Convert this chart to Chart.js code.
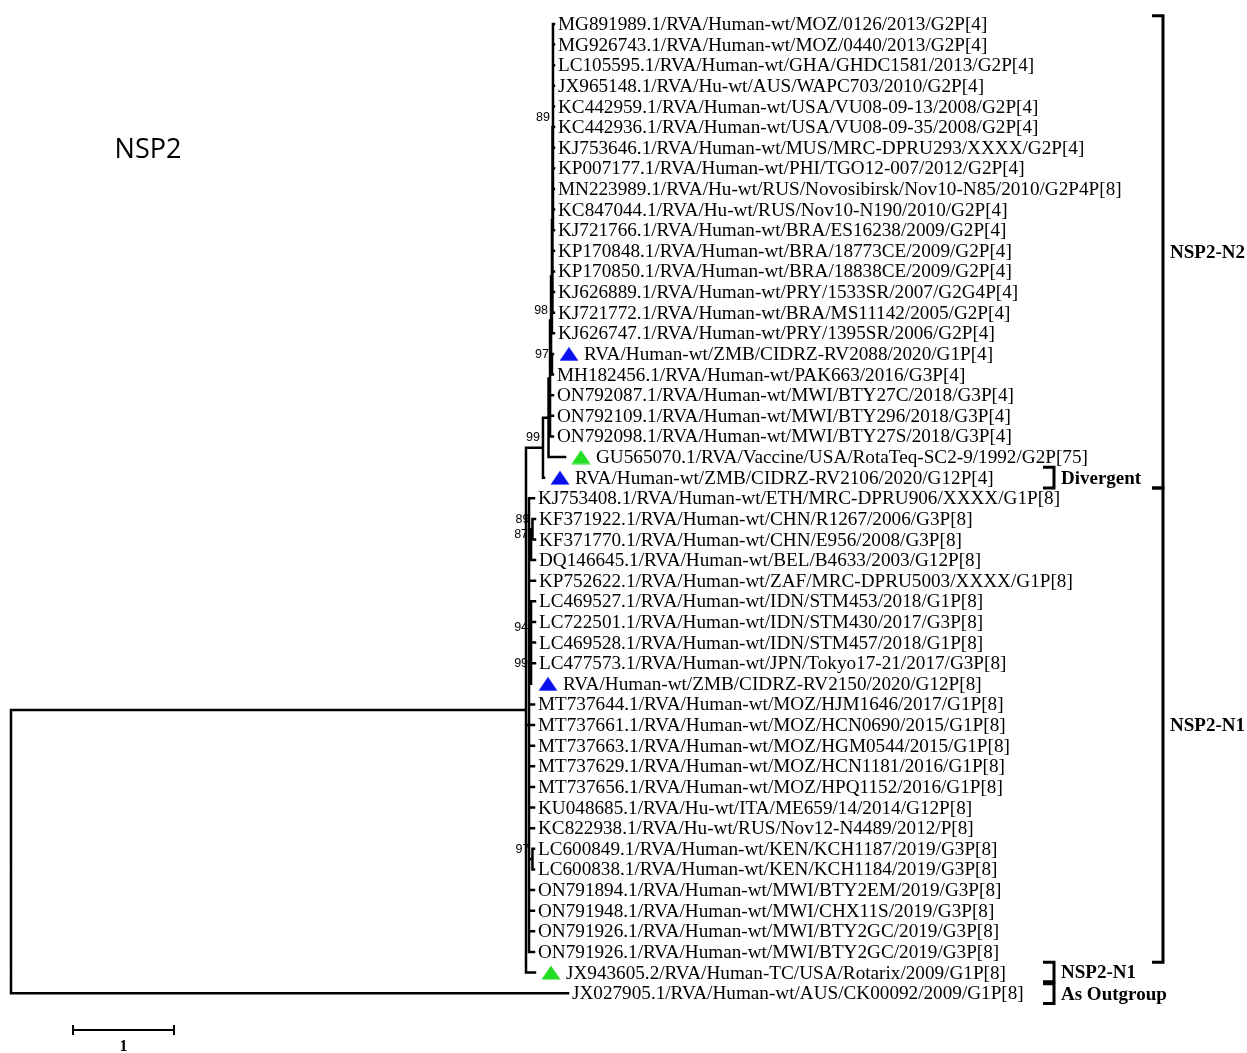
<!DOCTYPE html>
<html>
<head>
<meta charset="utf-8">
<script src="https://cdn.jsdelivr.net/npm/chart.js@4.4.1/dist/chart.umd.min.js"></script>
<style>
  body { margin: 0; background: #fff; }
  #wrap { width: 1247px; height: 1053px; position: relative; }
</style>
</head>
<body>
<div id="wrap"><canvas id="tree"></canvas></div>
<script>
// leaves, top to bottom
const leafNames = [
  "MG891989.1/RVA/Human-wt/MOZ/0126/2013/G2P[4]",
  "MG926743.1/RVA/Human-wt/MOZ/0440/2013/G2P[4]",
  "LC105595.1/RVA/Human-wt/GHA/GHDC1581/2013/G2P[4]",
  "JX965148.1/RVA/Hu-wt/AUS/WAPC703/2010/G2P[4]",
  "KC442959.1/RVA/Human-wt/USA/VU08-09-13/2008/G2P[4]",
  "KC442936.1/RVA/Human-wt/USA/VU08-09-35/2008/G2P[4]",
  "KJ753646.1/RVA/Human-wt/MUS/MRC-DPRU293/XXXX/G2P[4]",
  "KP007177.1/RVA/Human-wt/PHI/TGO12-007/2012/G2P[4]",
  "MN223989.1/RVA/Hu-wt/RUS/Novosibirsk/Nov10-N85/2010/G2P4P[8]",
  "KC847044.1/RVA/Hu-wt/RUS/Nov10-N190/2010/G2P[4]",
  "KJ721766.1/RVA/Human-wt/BRA/ES16238/2009/G2P[4]",
  "KP170848.1/RVA/Human-wt/BRA/18773CE/2009/G2P[4]",
  "KP170850.1/RVA/Human-wt/BRA/18838CE/2009/G2P[4]",
  "KJ626889.1/RVA/Human-wt/PRY/1533SR/2007/G2G4P[4]",
  "KJ721772.1/RVA/Human-wt/BRA/MS11142/2005/G2P[4]",
  "KJ626747.1/RVA/Human-wt/PRY/1395SR/2006/G2P[4]",
  "RVA/Human-wt/ZMB/CIDRZ-RV2088/2020/G1P[4]",
  "MH182456.1/RVA/Human-wt/PAK663/2016/G3P[4]",
  "ON792087.1/RVA/Human-wt/MWI/BTY27C/2018/G3P[4]",
  "ON792109.1/RVA/Human-wt/MWI/BTY296/2018/G3P[4]",
  "ON792098.1/RVA/Human-wt/MWI/BTY27S/2018/G3P[4]",
  "GU565070.1/RVA/Vaccine/USA/RotaTeq-SC2-9/1992/G2P[75]",
  "RVA/Human-wt/ZMB/CIDRZ-RV2106/2020/G12P[4]",
  "KJ753408.1/RVA/Human-wt/ETH/MRC-DPRU906/XXXX/G1P[8]",
  "KF371922.1/RVA/Human-wt/CHN/R1267/2006/G3P[8]",
  "KF371770.1/RVA/Human-wt/CHN/E956/2008/G3P[8]",
  "DQ146645.1/RVA/Human-wt/BEL/B4633/2003/G12P[8]",
  "KP752622.1/RVA/Human-wt/ZAF/MRC-DPRU5003/XXXX/G1P[8]",
  "LC469527.1/RVA/Human-wt/IDN/STM453/2018/G1P[8]",
  "LC722501.1/RVA/Human-wt/IDN/STM430/2017/G3P[8]",
  "LC469528.1/RVA/Human-wt/IDN/STM457/2018/G1P[8]",
  "LC477573.1/RVA/Human-wt/JPN/Tokyo17-21/2017/G3P[8]",
  "RVA/Human-wt/ZMB/CIDRZ-RV2150/2020/G12P[8]",
  "MT737644.1/RVA/Human-wt/MOZ/HJM1646/2017/G1P[8]",
  "MT737661.1/RVA/Human-wt/MOZ/HCN0690/2015/G1P[8]",
  "MT737663.1/RVA/Human-wt/MOZ/HGM0544/2015/G1P[8]",
  "MT737629.1/RVA/Human-wt/MOZ/HCN1181/2016/G1P[8]",
  "MT737656.1/RVA/Human-wt/MOZ/HPQ1152/2016/G1P[8]",
  "KU048685.1/RVA/Hu-wt/ITA/ME659/14/2014/G12P[8]",
  "KC822938.1/RVA/Hu-wt/RUS/Nov12-N4489/2012/P[8]",
  "LC600849.1/RVA/Human-wt/KEN/KCH1187/2019/G3P[8]",
  "LC600838.1/RVA/Human-wt/KEN/KCH1184/2019/G3P[8]",
  "ON791894.1/RVA/Human-wt/MWI/BTY2EM/2019/G3P[8]",
  "ON791948.1/RVA/Human-wt/MWI/CHX11S/2019/G3P[8]",
  "ON791926.1/RVA/Human-wt/MWI/BTY2GC/2019/G3P[8]",
  "ON791926.1/RVA/Human-wt/MWI/BTY2GC/2019/G3P[8]",
  "JX943605.2/RVA/Human-TC/USA/Rotarix/2009/G1P[8]",
  "JX027905.1/RVA/Human-wt/AUS/CK00092/2009/G1P[8]"
];

// distance of each tip from the root (substitutions/site)
const leafDepths = [
  5.376, 5.376, 5.376, 5.376, 5.376, 5.376, 5.376, 5.376,
  5.376, 5.376, 5.376, 5.376, 5.376, 5.376, 5.376, 5.376,
  5.366, 5.366, 5.366, 5.366, 5.366, 5.485, 5.277,
  5.178, 5.188, 5.188, 5.188, 5.188, 5.188, 5.188, 5.188, 5.188,
  5.158, 5.178, 5.178, 5.178, 5.178, 5.178, 5.178, 5.178,
  5.178, 5.178, 5.178, 5.178, 5.178, 5.178, 5.188, 5.515
];

// internal nodes: id, depth, children (numbers = leaf index), bootstrap
const nodeIds = ["root", "I", "A", "A2", "M", "R", "N", "P", "P2", "Q",
                 "B", "n87", "n89", "n94", "n99", "n97"];
const nodeDepths = [0, 5.099, 5.267, 5.322, 5.337, 5.347, 5.356, 5.366, 5.361, 5.356,
                    5.129, 5.149, 5.163, 5.149, 5.149, 5.163];
const nodeChildren = [
  ["I", 47],
  ["A", "B", 46],
  ["A2", 22],
  ["M", 21],
  ["R", 18, 19, 20],
  ["N", "Q"],
  ["P2", 15],
  [0, 1, 2, 3, 4, 5, 6, 7, 8, 9, 10],
  ["P", 11, 12, 13, 14],
  [16, 17],
  [23, "n87", 27, "n94", 33, 34, 35, 36, 37, 38, 39, "n97", 42, 43, 44, 45],
  ["n89", 26],
  [24, 25],
  [28, 29, 30, "n99"],
  [31, 32],
  [40, 41]
];
const nodeSupport = [null, null, 99, null, null, 98, null, 89, null, 97,
                     null, 87, 89, 94, 99, 97];

// highlighted strains
const markedLeaves = [16, 21, 22, 32, 46];
const markedColors = ["#0a10ee", "#22dd22", "#0a10ee", "#0a10ee", "#22dd22"];

// clade brackets (leaf index range)
const cladeNames = ["NSP2-N2", "NSP2-N1", "Divergent", "NSP2-N1", "As Outgroup"];
const cladeFrom = [-0.4, 22.5, 21.5, 45.5, 46.55];
const cladeTo = [22.5, 45.5, 22.5, 46.45, 47.5];
const cladeOuter = [true, true, false, false, false];

const scaleBarStart = 0.614;
const scaleBarLength = 1;

// ---- build geometry from the tree ----
const nodeY = {};
function yOf(c) {
  if (typeof c === "number") return c;
  if (nodeY[c] !== undefined) return nodeY[c];
  const k = nodeIds.indexOf(c);
  const ys = nodeChildren[k].map(yOf);
  nodeY[c] = (Math.min(...ys) + Math.max(...ys)) / 2;
  return nodeY[c];
}
function xOf(c) {
  return typeof c === "number" ? leafDepths[c] : nodeDepths[nodeIds.indexOf(c)];
}

const branches = [];
nodeIds.forEach((id, k) => {
  const x0 = nodeDepths[k];
  const ys = nodeChildren[k].map(yOf);
  branches.push({ x: x0, y: Math.min(...ys) }, { x: x0, y: Math.max(...ys) }, { x: null, y: null });
  nodeChildren[k].forEach((c) => {
    branches.push({ x: x0, y: yOf(c) }, { x: xOf(c), y: yOf(c) }, { x: null, y: null });
  });
});

function triangleIcon(color) {
  const c = document.createElement("canvas");
  c.width = 20; c.height = 15;
  const g = c.getContext("2d");
  g.fillStyle = color;
  g.beginPath();
  g.moveTo(0.5, 14.5); g.lineTo(10, 0.5); g.lineTo(19.5, 14.5);
  g.closePath(); g.fill();
  return c;
}

const MARK_GAP = 16 / 101;
const markerPoints = markedLeaves.map((i) => ({ x: leafDepths[i] + MARK_GAP, y: i }));
const markerIcons = markedColors.map(triangleIcon);

const treeText = {
  id: "treeText",
  afterDatasetsDraw(chart) {
    const { ctx, scales: { x, y } } = chart;
    ctx.save();
    // leaf labels
    ctx.fillStyle = "#000";
    ctx.font = '19.2px "Liberation Serif"';
    ctx.textBaseline = "middle";
    ctx.textAlign = "left";
    leafNames.forEach((name, i) => {
      const off = markedLeaves.includes(i) ? 31 : 4;
      ctx.fillText(name, x.getPixelForValue(leafDepths[i]) + off, y.getPixelForValue(i) + 1);
    });
    // bootstrap values
    ctx.font = '12.5px "Liberation Sans"';
    ctx.textAlign = "right";
    nodeIds.forEach((id, k) => {
      if (nodeSupport[k] == null) return;
      ctx.fillText(String(nodeSupport[k]), x.getPixelForValue(nodeDepths[k]) - 3, y.getPixelForValue(yOf(id)) - 10);
    });
    // clade brackets
    ctx.strokeStyle = "#000";
    ctx.lineWidth = 3;
    ctx.textAlign = "left";
    ctx.font = 'bold 19px "Liberation Serif"';
    cladeNames.forEach((name, k) => {
      const bx = cladeOuter[k] ? 1163 : 1054;
      const y0 = y.getPixelForValue(cladeFrom[k]);
      const y1 = y.getPixelForValue(cladeTo[k]);
      ctx.beginPath();
      ctx.moveTo(bx - 11, y0); ctx.lineTo(bx, y0); ctx.lineTo(bx, y1); ctx.lineTo(bx - 11, y1);
      ctx.stroke();
      ctx.fillText(name, bx + 7, (y0 + y1) / 2 + 1);
    });
    // scale bar
    const sx0 = x.getPixelForValue(scaleBarStart);
    const sx1 = x.getPixelForValue(scaleBarStart + scaleBarLength);
    const sy = 1030;
    ctx.lineWidth = 2;
    ctx.beginPath();
    ctx.moveTo(sx0, sy); ctx.lineTo(sx1, sy);
    ctx.moveTo(sx0, sy - 5); ctx.lineTo(sx0, sy + 5);
    ctx.moveTo(sx1, sy - 5); ctx.lineTo(sx1, sy + 5);
    ctx.stroke();
    ctx.textAlign = "center";
    ctx.font = 'bold 16px "Liberation Serif"';
    ctx.fillText(String(scaleBarLength), (sx0 + sx1) / 2, 1047);
    // title
    ctx.font = '27px "Open Sans"';
    ctx.fillText("NSP2", 148, 150);
    ctx.restore();
  }
};

new Chart(document.getElementById("tree"), {
  type: "scatter",
  data: {
    datasets: [
      {
        label: "branches",
        data: branches,
        showLine: true,
        spanGaps: false,
        borderColor: "#000",
        borderWidth: 2.5,
        borderCapStyle: "square",
        pointRadius: 0,
        clip: false
      },
      {
        label: "markers",
        data: markerPoints,
        pointStyle: markerIcons,
        pointRadius: 10,
        clip: false
      }
    ]
  },
  options: {
    responsive: true,
    maintainAspectRatio: false,
    animation: false,
    layout: { padding: 0, autoPadding: false },
    plugins: { legend: { display: false }, tooltip: { enabled: false } },
    scales: {
      x: { type: "linear", display: false, min: -0.1089, max: 12.2376 },
      y: { type: "linear", display: false, reverse: true, min: -1.1639, max: 49.903 }
    }
  },
  plugins: [treeText]
});
</script>
</body>
</html>
